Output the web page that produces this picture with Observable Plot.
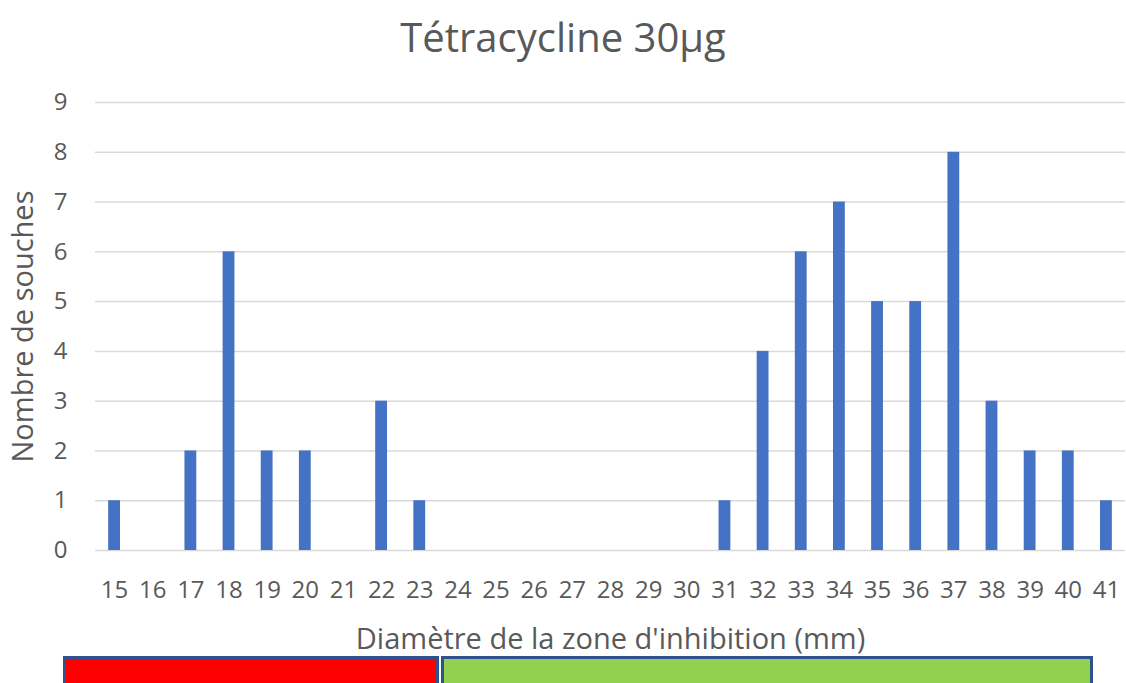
<!DOCTYPE html>
<html>
<head>
<meta charset="utf-8">
<script src="https://cdn.jsdelivr.net/npm/d3@7"></script>
<script src="https://cdn.jsdelivr.net/npm/@observablehq/plot@0.6"></script>
<style>
  body { margin: 0; background: #fff; width: 1126px; height: 683px; overflow: hidden; position: relative; font-family: "Open Sans", sans-serif; }
  #title { position: absolute; left: 0; width: 1126px; top: 9px; text-align: center; font-size: 40px; line-height: 56px; color: #595959; }
  #chart { position: absolute; left: 0; top: 0; }
  .zone { position: absolute; top: 656px; height: 40px; border: 3px solid #2F528F; box-sizing: border-box; }
</style>
</head>
<body>
<div id="chart"></div>
<div id="title">Tétracycline 30µg</div>
<div class="zone" id="zr"></div>
<div class="zone" id="zs"></div>
<script>
const diametres = [15,16,17,18,19,20,21,22,23,24,25,26,27,28,29,30,31,32,33,34,35,36,37,38,39,40,41];
const souches   = [1,0,2,6,2,2,0,3,1,0,0,0,0,0,0,0,1,4,6,7,5,5,8,3,2,2,1];
const yTicks = [0,1,2,3,4,5,6,7,8,9];
const zones = [
  {nom: "Résistant", couleur: "#FF0000"},
  {nom: "Sensible", couleur: "#92D050"}
];

const data = diametres.map((d, i) => ({d: String(d), n: souches[i]}));

const chart = Plot.plot({
  width: 1126,
  height: 656,
  marginTop: 102,
  marginBottom: 106,
  marginLeft: 95,
  marginRight: 1,
  style: {fontFamily: "Open Sans, sans-serif", color: "#595959", background: "transparent"},
  x: {domain: diametres.map(String), paddingInner: 0.69, paddingOuter: 0.345, align: 0.5, round: false},
  y: {domain: [0, 9]},
  marks: [
    Plot.gridY(yTicks, {stroke: "#d9d9d9", strokeOpacity: 1, strokeWidth: 1.5}),
    Plot.barY(data, {x: "d", y: "n", fill: "#4472C4"}),
    Plot.axisY(yTicks, {tickSize: 0, tickPadding: 0, dx: -28, fontSize: 24, fill: "#595959", label: null, textAnchor: "end", tickFormat: d3.format("d")}),
    Plot.axisX({tickSize: 0, tickPadding: 30, fontSize: 24, fill: "#595959", label: null}),
    Plot.text(["Nombre de souches"], {frameAnchor: "left", dx: -72, rotate: -90, textAnchor: "middle", fontSize: 29, fill: "#595959"}),
    Plot.text(["Diamètre de la zone d'inhibition (mm)"], {frameAnchor: "bottom", dy: 98, fontSize: 29, fill: "#595959"})
  ]
});
document.getElementById("chart").appendChild(chart);

const zr = document.getElementById("zr");
zr.style.left = "63px"; zr.style.width = (439 - 63) + "px"; zr.style.background = zones[0].couleur;
const zs = document.getElementById("zs");
zs.style.left = "441px"; zs.style.width = (1093 - 441) + "px"; zs.style.background = zones[1].couleur;
</script>
</body>
</html>
